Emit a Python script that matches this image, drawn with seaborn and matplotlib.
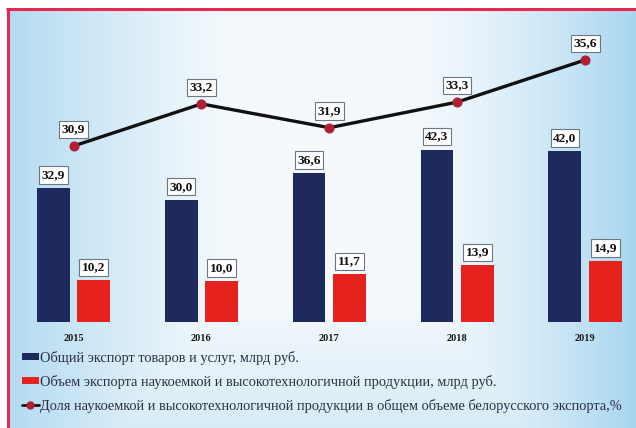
import numpy as np
import pandas as pd
import matplotlib
matplotlib.use("Agg")
import matplotlib.pyplot as plt
from matplotlib.lines import Line2D
from matplotlib.patches import Patch
import seaborn as sns

years = ["2015", "2016", "2017", "2018", "2019"]
total_export = [32.9, 30.0, 36.6, 42.3, 42.0]
hitech_export = [10.2, 10.0, 11.7, 13.9, 14.9]
hitech_share = [30.9, 33.2, 31.9, 33.3, 35.6]

series_names = [
    "Общий экспорт товаров и услуг, млрд руб.",
    "Объем экспорта наукоемкой и высокотехнологичной продукции, млрд руб.",
]
share_name = "Доля наукоемкой и высокотехнологичной продукции в общем объеме белорусского экспорта,%"

NAVY = "#1e2a5e"
RED = "#e5221d"
MARKER = "#b01f35"
FRAME = "#e8284c"
SERIF = "Liberation Serif"

sns.set_theme(style="white")
plt.rcParams["font.family"] = [SERIF, "DejaVu Serif"]

df = pd.DataFrame({
    "year": years * 2,
    "value": total_export + hitech_export,
    "series": [series_names[0]] * len(years) + [series_names[1]] * len(years),
})

W, H = 636, 428
fig = plt.figure(figsize=(W / 100, H / 100), dpi=100)

# soft blue backdrop: bluish on the sides, nearly white in the middle
bg = fig.add_axes([0, 0, 1, 1], zorder=0)
xs = np.linspace(0, 1, 400)
ys = np.linspace(0, 1, 300)
X, Y = np.meshgrid(xs, ys)
left = np.clip(1 - X / 0.38, 0, 1) ** 1.2
right = np.clip((X - 0.62) / 0.38, 0, 1) ** 1.5
bottom = np.clip((Y - 0.70) / 0.30, 0, 1) * 0.4
t = np.clip(np.maximum(np.maximum(left * 0.9, right), bottom), 0, 1)
white = np.array([0.965, 0.98, 0.99])
blue = np.array([0.66, 0.84, 0.94])
img = white[None, None, :] * (1 - t[..., None]) + blue[None, None, :] * t[..., None]
bg.imshow(img, extent=[0, 1, 0, 1], aspect="auto", origin="upper")
bg.set_xlim(0, 1)
bg.set_ylim(0, 1)
bg.axis("off")
# plain white margin outside the frame
px = 1 / W
py = 1 / H
bg.fill_between([0, 1], 1 - 9 * py, 1, color="white", zorder=2)
bg.fill_between([0, 7.5 * px], 0, 1, color="white", zorder=2)
bg.plot([7.5 * px, 7.5 * px], [0, 1 - 9 * py], color=FRAME, lw=2.2, zorder=3, solid_capstyle="butt")
bg.plot([7.5 * px - 1.1 * px, 1], [1 - 9 * py, 1 - 9 * py], color=FRAME, lw=2.2, zorder=3, solid_capstyle="butt")

# main bar axes
ax_l, ax_r = 10, 630
ax_b, ax_t = 106, 408
ax = fig.add_axes([ax_l / W, ax_b / H, (ax_r - ax_l) / W, (ax_t - ax_b) / H], zorder=2)
ax.patch.set_alpha(0)

sns.barplot(data=df, x="year", y="value", hue="series", order=years,
            hue_order=series_names, palette=[NAVY, RED], width=0.633, gap=0.19,
            saturation=1, ax=ax, legend=False, linewidth=0)

step = 127.9
ax.set_xlim((ax_l - 73.5) / step, (ax_r - 73.5) / step)
ax.set_ylim(0, (ax_t - ax_b) / 4.07)
for s in ax.spines.values():
    s.set_visible(False)
ax.set_yticks([])
ax.set_xlabel("")
ax.set_ylabel("")
ax.tick_params(axis="x", length=0, pad=8.5)
for lab in ax.get_xticklabels():
    lab.set_fontsize(7.5)
    lab.set_fontweight("bold")
    lab.set_color("#1a1a1a")

box = dict(boxstyle="square,pad=0.2", fc="white", ec="#6b7785", lw=0.8)


def fmt(v):
    return f"{v:.1f}".replace(".", ",")


for cont in ax.containers:
    for rect in cont:
        h = rect.get_height()
        ax.annotate(fmt(h), (rect.get_x() + rect.get_width() / 2, h),
                    xytext=(0, 9.5), textcoords="offset points", ha="center", va="center",
                    fontsize=9.6, fontweight="bold", color="#111111", bbox=box, zorder=5)

# share line on its own scale
ax2 = ax.twinx()
ax2.set_zorder(3)
ax2.patch.set_alpha(0)
lo = 30.9 - (H - 146 - ax_b) / 18.3
ax2.set_ylim(lo, lo + (ax_t - ax_b) / 18.3)
sns.lineplot(x=np.arange(len(years)), y=hitech_share, ax=ax2, color="#111111", lw=2.4,
             marker="o", markersize=6.5, markerfacecolor=MARKER, markeredgecolor=MARKER,
             legend=False)
ax2.set_xlim(ax.get_xlim())
ax2.set_yticks([])
ax2.set_ylabel("")
for s in ax2.spines.values():
    s.set_visible(False)
for i, v in enumerate(hitech_share):
    ax2.annotate(fmt(v), (i, v), xytext=(0, 12), textcoords="offset points",
                 ha="center", va="center", fontsize=9.6, fontweight="bold",
                 color="#111111", bbox=box, zorder=6)

handles = [
    Patch(facecolor=NAVY, edgecolor="none"),
    Patch(facecolor=RED, edgecolor="none"),
    Line2D([0], [0], color="#111111", lw=2, marker="o", markersize=5,
           markerfacecolor=MARKER, markeredgecolor=MARKER),
]
leg = fig.legend(handles, series_names + [share_name], loc="upper left",
                 bbox_to_anchor=(22 / W, 1 - 351 / H), frameon=False,
                 prop={"family": SERIF, "size": 10.4}, labelcolor="#2b2f45",
                 handlelength=1.15, handleheight=0.4, handletextpad=0.12,
                 labelspacing=0.68, borderpad=0, borderaxespad=0)

fig.savefig("out.png", dpi=100)
